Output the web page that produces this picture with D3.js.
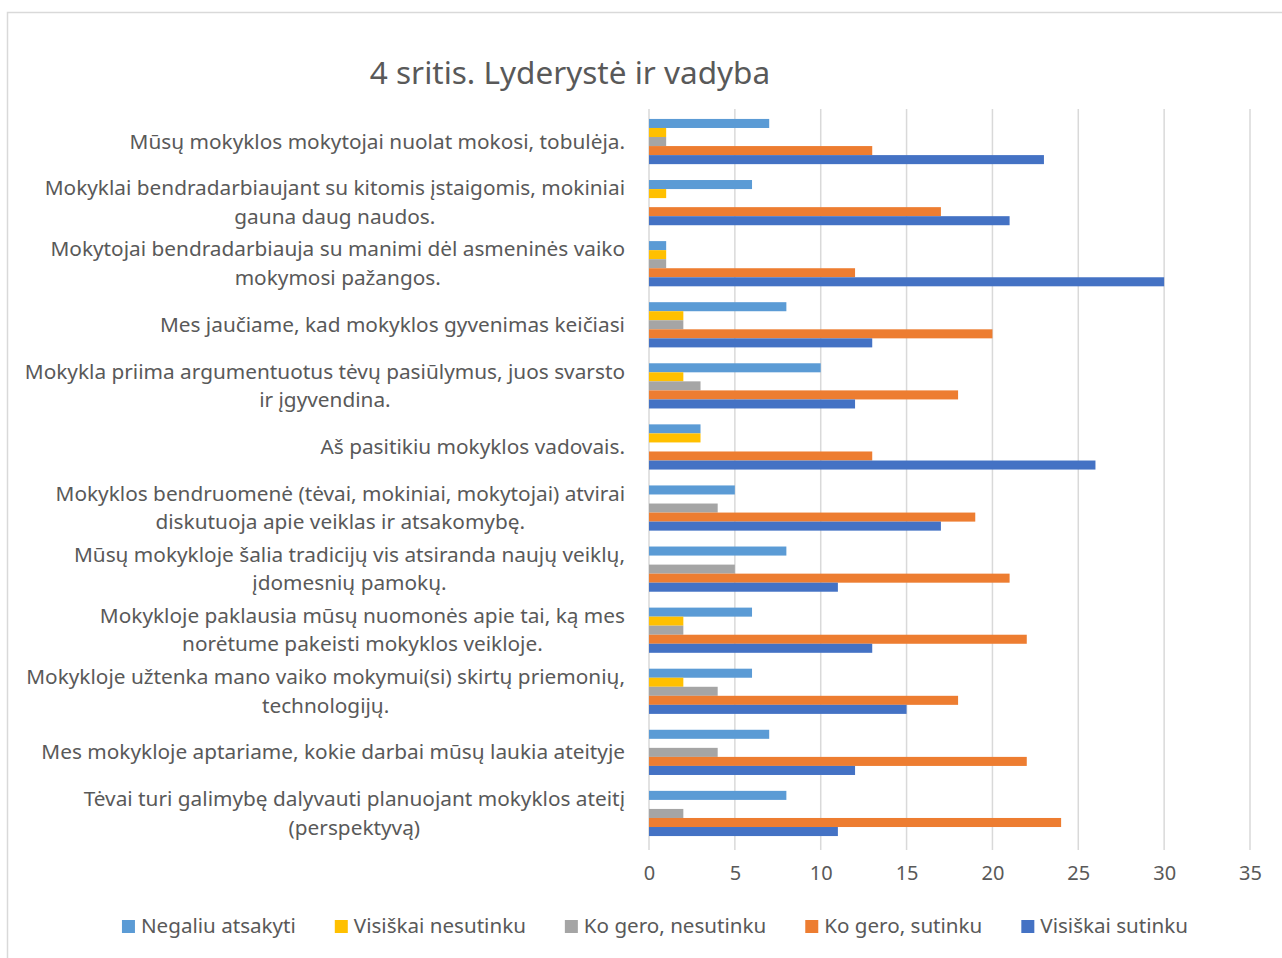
<!DOCTYPE html>
<html>
<head>
<meta charset="utf-8">
<script src="https://cdn.jsdelivr.net/npm/d3@7"></script>
<style>
  body { margin: 0; background: #fff; }
  text { font-family: "Noto Sans", sans-serif; fill: #595959; }
</style>
</head>
<body>
<div id="chart"></div>
<script>
// categories, each one an array of lines as wrapped in the picture
var categories = [
  ["Mūsų mokyklos mokytojai nuolat mokosi, tobulėja."],
  ["Mokyklai bendradarbiaujant su kitomis įstaigomis, mokiniai", "gauna daug naudos."],
  ["Mokytojai bendradarbiauja su manimi dėl asmeninės vaiko", "mokymosi pažangos."],
  ["Mes jaučiame, kad mokyklos gyvenimas keičiasi"],
  ["Mokykla priima argumentuotus tėvų pasiūlymus, juos svarsto", "ir įgyvendina."],
  ["Aš pasitikiu mokyklos vadovais."],
  ["Mokyklos bendruomenė (tėvai, mokiniai, mokytojai) atvirai", "diskutuoja apie veiklas ir atsakomybę."],
  ["Mūsų mokykloje šalia tradicijų vis atsiranda naujų veiklų,", "įdomesnių pamokų."],
  ["Mokykloje paklausia mūsų nuomonės apie tai, ką mes", "norėtume pakeisti mokyklos veikloje."],
  ["Mokykloje užtenka mano vaiko mokymui(si) skirtų priemonių,", "technologijų."],
  ["Mes mokykloje aptariame, kokie darbai mūsų laukia ateityje"],
  ["Tėvai turi galimybę dalyvauti planuojant mokyklos ateitį", "(perspektyvą)"]
];

var seriesNames = ["Negaliu atsakyti", "Visiškai nesutinku", "Ko gero, nesutinku", "Ko gero, sutinku", "Visiškai sutinku"];
var seriesColors = ["#5b9bd5", "#ffc000", "#a5a5a5", "#ed7d31", "#4472c4"];

var negaliu        = [7, 6, 1, 8, 10, 3, 5, 8, 6, 6, 7, 8];
var visiskaiNesut  = [1, 1, 1, 2, 2, 3, 0, 0, 2, 2, 0, 0];
var kogeroNesut    = [1, 0, 1, 2, 3, 0, 4, 5, 2, 4, 4, 2];
var kogeroSut      = [13, 17, 12, 20, 18, 13, 19, 21, 22, 18, 22, 24];
var visiskaiSut    = [23, 21, 30, 13, 12, 26, 17, 11, 13, 15, 12, 11];

var xTicks = [0, 5, 10, 15, 20, 25, 30, 35];
var title = "4 sritis. Lyderystė ir vadyba";

var seriesValues = [negaliu, visiskaiNesut, kogeroNesut, kogeroSut, visiskaiSut];

var W = 1282, H = 958;
var svg = d3.select("#chart").append("svg")
    .attr("width", W)
    .attr("height", H);

// chart frame
svg.append("rect")
    .attr("x", 7.5).attr("y", 12.5)
    .attr("width", W + 20).attr("height", H + 20)
    .attr("fill", "none")
    .attr("stroke", "#d9d9d9")
    .attr("stroke-width", 1.5);

svg.append("text")
    .attr("x", 570).attr("y", 84)
    .attr("text-anchor", "middle")
    .style("font-size", "31.5px")
    .text(title);

var plotLeft = 649, plotRight = 1250, plotTop = 111, plotBottom = 844;

var x = d3.scaleLinear().domain([0, 35]).range([plotLeft, plotRight]);
var y = d3.scaleBand().domain(d3.range(categories.length))
    .range([plotTop, plotBottom])
    .paddingInner(0.26).paddingOuter(0.13);
var ySub = d3.scaleBand().domain(d3.range(seriesNames.length))
    .range([0, y.bandwidth()]);

// grid lines
svg.append("g").selectAll("line")
    .data(xTicks)
    .enter().append("line")
    .attr("x1", function(d) { return x(d); })
    .attr("x2", function(d) { return x(d); })
    .attr("y1", plotTop - 2)
    .attr("y2", plotBottom + 6)
    .attr("stroke", "#d9d9d9")
    .attr("stroke-width", 1.5);

// bars
var groups = svg.append("g").selectAll("g")
    .data(categories)
    .enter().append("g")
    .attr("transform", function(d, i) { return "translate(0," + y(i) + ")"; });

groups.selectAll("rect")
    .data(function(d, i) { return seriesValues.map(function(s, k) { return {k: k, v: s[i]}; }); })
    .enter().append("rect")
    .filter(function(d) { return d.v > 0; })
    .attr("x", x(0))
    .attr("y", function(d) { return ySub(d.k); })
    .attr("width", function(d) { return x(d.v) - x(0); })
    .attr("height", ySub.bandwidth())
    .attr("fill", function(d) { return seriesColors[d.k]; });

// x axis tick labels
var xAxis = d3.axisBottom(x).tickValues(xTicks).tickSize(0).tickPadding(0);
var gx = svg.append("g")
    .attr("transform", "translate(0," + 866 + ")")
    .call(xAxis);
gx.select(".domain").remove();
gx.selectAll("text")
    .style("font-size", "20px")
    .style("font-family", "'Noto Sans', sans-serif")
    .attr("fill", "#595959");

// category labels, block right-aligned, lines centred within the block
var labelRight = 625, lineH = 28.5;
var labels = svg.append("g");
categories.forEach(function(lines, i) {
  var cy = y(i) + y.bandwidth() / 2 + 7;
  var t = labels.append("text").style("font-size", "20.8px");
  var spans = lines.map(function(line, j) {
    return t.append("tspan")
      .attr("y", cy + (j - (lines.length - 1) / 2) * lineH)
      .text(line);
  });
  var widths = spans.map(function(s) { return s.node().getComputedTextLength(); });
  var blockW = d3.max(widths);
  spans.forEach(function(s, j) {
    s.attr("x", labelRight - blockW / 2).attr("text-anchor", "middle");
  });
});

// legend
var legend = svg.append("g");
var lx = 0;
var items = seriesNames.map(function(name, k) {
  var g = legend.append("g");
  g.append("rect")
    .attr("y", -13).attr("width", 13).attr("height", 13)
    .attr("fill", seriesColors[k]);
  var txt = g.append("text")
    .attr("x", 19)
    .style("font-size", "20.6px")
    .text(name);
  var w = 19 + txt.node().getComputedTextLength();
  g.attr("transform", "translate(" + lx + ",0)");
  lx += w + 39;
  return g;
});
var legendW = lx - 39;
legend.attr("transform", "translate(" + (655 - legendW / 2) + ",933)");
</script>
</body>
</html>
